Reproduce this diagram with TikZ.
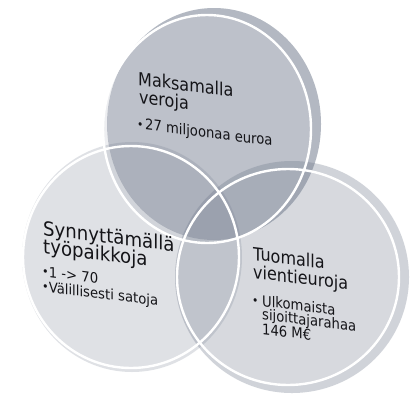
\documentclass[tikz,border=0pt]{standalone}
\usepackage{fontspec}
\setmainfont{DejaVu Sans}
\definecolor{venn}{RGB}{112,122,140}
\definecolor{ink}{RGB}{20,20,24}
\newcommand{\blt}[1]{\makebox[#1pt][l]{\raisebox{0.8pt}{\fontsize{12}{12}\selectfont •}}}
\newcommand{\hd}[1]{\fontsize{#1}{18}\selectfont}
\newcommand{\bt}[2]{\fontsize{#1}{#2}\selectfont}
\begin{document}
\begin{tikzpicture}[x=1pt,y=-1pt,
  disc/.style={fill=venn, fill opacity=#1, draw=none},
  band/.style={fill=venn, fill opacity=#1, even odd rule, draw=none},
  rim/.style={draw=white, line width=2.4pt},
  block/.style={anchor=base west, inner sep=0pt, text=ink, yslant=-0.125, xscale=0.89}]
\useasboundingbox[fill=white] (0,0) rectangle (414,394);
% centres of the faces and of the bodies
\coordinate (tc) at (207,129);
\coordinate (lc) at (131,257);
\coordinate (rc) at (288,277);
\coordinate (tb) at (214,124);
\coordinate (lb) at (132,257);
\coordinate (rb) at (292,277);
% bodies
\path[disc=0.46] (tb) ellipse [x radius=107, y radius=116];
\path[disc=0.22] (lb) ellipse [x radius=110, y radius=115];
\path[disc=0.28] (rb) ellipse [x radius=117, y radius=116];
% side bands (body outside the face)
\path[band=0.12] (tb) ellipse [x radius=107, y radius=116] (tc) ellipse [x radius=104, y radius=114];
\path[band=0.06] (rb) ellipse [x radius=117, y radius=116] (rc) ellipse [x radius=111, y radius=108];
% face outlines
\draw[rim] (tc) ellipse [x radius=104, y radius=114];
\draw[rim] (lc) ellipse [x radius=108, y radius=111];
\draw[rim] (rc) ellipse [x radius=111, y radius=108];
% texts
\node[block] (ttext) at (138,85) {\vtop{\lineskiplimit=-100pt
  \hd{18}\hbox{Maksamalla}
  \hbox{\hspace{1.1pt}veroja}
  \bt{14.8}{26}\hbox{\hspace{-1.2pt}\blt{9.1}27 miljoonaa euroa}}};
\node[block, xscale=1.045] (ltext) at (43,235) {\vtop{\lineskiplimit=-100pt
  \hd{19.5}\hbox{Synnyttämällä}
  \hbox{työpaikkoja}
  \bt{14.2}{23.5}\hbox{\hspace{-1.2pt}\blt{7.2}1 -> 70}
  \bt{14.2}{15}\hbox{\hspace{-1.2pt}\blt{7.2}Välillisesti satoja}}};
\node[block] (rtext) at (253,260) {\vtop{\lineskiplimit=-100pt
  \hd{18}\hbox{Tuomalla}
  \hbox{vientieuroja}
  \bt{14.8}{27}\hbox{\hspace{-1.2pt}\blt{11.3}Ulkomaista}
  \bt{14.8}{13.5}\hbox{\hspace{10.1pt}sijoittajarahaa}
  \bt{14.8}{14.5}\hbox{\hspace{10.1pt}146 M€}}};
\end{tikzpicture}
\end{document}
